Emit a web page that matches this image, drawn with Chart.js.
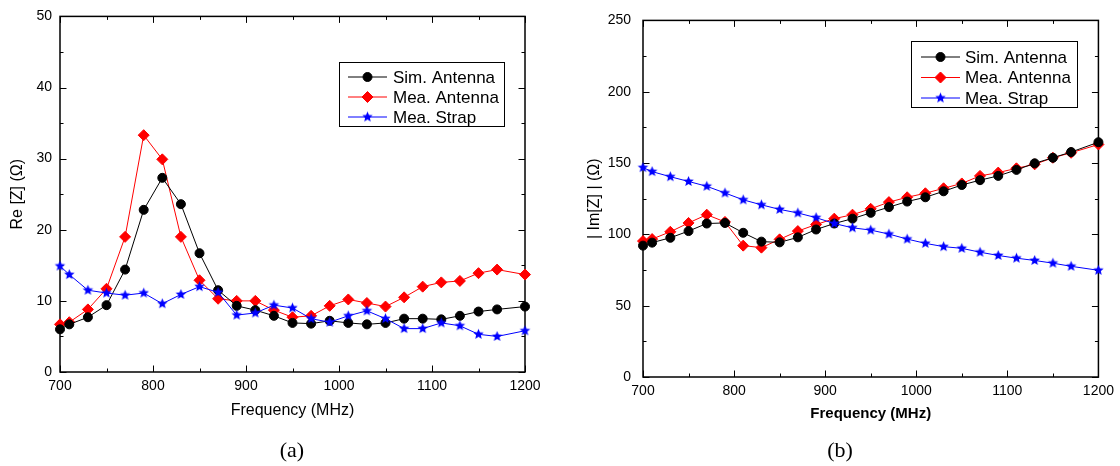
<!DOCTYPE html>
<html>
<head>
<meta charset="utf-8">
<script src="https://cdn.jsdelivr.net/npm/chart.js@4.4.1/dist/chart.umd.min.js"></script>
<style>
  html, body { margin: 0; padding: 0; background: #fff; }
  #wrap { position: relative; width: 1120px; height: 466px; overflow: hidden; }
  canvas { position: absolute; top: 0; }
  #cA { left: 0; }
  #cB { left: 560px; }
  .cap { position: absolute; top: 437px; width: 60px; margin-left: -30px; text-align: center;
         font: 22px 'Liberation Serif', 'Times New Roman', serif; color: #000; }
</style>
</head>
<body>
<div id="wrap">
  <canvas id="cA" width="560" height="466" style="width:560px;height:466px"></canvas>
  <canvas id="cB" width="560" height="466" style="width:560px;height:466px"></canvas>
  <div class="cap" style="left:292px">(a)</div>
  <div class="cap" style="left:840px">(b)</div>
</div>
<script>
// --- data ---
const freq = [700, 710, 730, 750, 770, 790, 810, 830, 850, 870, 890, 910, 930, 950,
              970, 990, 1010, 1030, 1050, 1070, 1090, 1110, 1130, 1150, 1170, 1200];

// (a) Re[Z]
const reSim   = [6.0, 6.7, 7.7, 9.4, 14.4, 22.8, 27.3, 23.6, 16.7, 11.5, 9.3, 8.7, 7.9, 6.9,
                 6.8, 7.2, 6.9, 6.7, 6.9, 7.5, 7.5, 7.4, 7.9, 8.5, 8.8, 9.2];
const reMea   = [6.7, 7.0, 8.8, 11.7, 19.0, 33.3, 29.9, 19.0, 12.9, 10.3, 10.0, 10.0, 8.7, 7.7,
                 7.9, 9.3, 10.2, 9.7, 9.2, 10.5, 12.0, 12.6, 12.8, 13.9, 14.4, 13.7];
const reStrap = [14.9, 13.7, 11.5, 11.1, 10.8, 11.1, 9.6, 10.9, 12.0, 11.2, 8.0, 8.3, 9.4, 9.0,
                 7.5, 7.0, 7.9, 8.6, 7.5, 6.1, 6.1, 6.9, 6.5, 5.3, 5.0, 5.8];

// (b) |Im[Z]|
const imSim   = [92.1, 94.2, 97.6, 102.3, 107.6, 108.0, 101.1, 94.9, 94.4, 97.9, 103.4, 107.6, 111.0, 115.1,
                 119.1, 123.0, 126.0, 130.2, 134.6, 138.0, 141.0, 145.2, 149.8, 153.7, 157.7, 164.6];
const imMea   = [95.3, 96.7, 101.8, 108.0, 113.8, 108.7, 92.1, 90.7, 96.5, 102.3, 106.9, 111.0, 113.8, 117.9,
                 122.6, 126.0, 128.8, 132.3, 135.7, 141.0, 143.3, 146.3, 149.1, 153.7, 157.2, 163.0];
const imStrap = [146.8, 144.0, 140.4, 137.1, 133.7, 129.0, 124.2, 120.7, 117.5, 115.0, 111.7, 107.6, 104.6, 103.0,
                 100.2, 96.7, 93.7, 91.4, 90.2, 87.5, 85.2, 83.3, 81.7, 79.8, 77.6, 74.8];

const seriesNames = ['Sim. Antenna', 'Mea. Antenna', 'Mea. Strap'];

Chart.defaults.font.family = "'Liberation Sans', Arial, sans-serif";
Chart.defaults.color = '#000';

// filled five-point star used as point style
function starImage(color, R) {
  const s = Math.ceil(R * 2 + 2) | 1;
  const c = document.createElement('canvas');
  c.width = c.height = s;
  const g = c.getContext('2d');
  g.fillStyle = color;
  g.beginPath();
  for (let i = 0; i < 10; i++) {
    const r = i % 2 ? R * 0.45 : R;
    const a = -Math.PI / 2 + i * Math.PI / 5;
    g.lineTo(s / 2 + r * Math.cos(a), s / 2 + r * Math.sin(a));
  }
  g.closePath();
  g.fill();
  return c;
}
const blueStar = starImage('#0000ff', 5.5);

function pts(vals) { return vals.map((v, i) => ({ x: freq[i], y: v })); }

function makeDatasets(sim, mea, strap) {
  const base = { borderWidth: 1, pointBorderWidth: 1, clip: false, showLine: true };
  return [
    Object.assign({}, base, { label: seriesNames[0], data: pts(sim), order: 1,
      borderColor: '#000', backgroundColor: '#000', pointStyle: 'circle', pointRadius: 4.5 }),
    Object.assign({}, base, { label: seriesNames[1], data: pts(mea), order: 2,
      borderColor: '#ff0000', backgroundColor: '#ff0000', pointStyle: 'rectRot', pointRadius: 5.5 }),
    Object.assign({}, base, { label: seriesNames[2], data: pts(strap), order: 0,
      borderColor: '#0000ff', backgroundColor: '#0000ff', pointStyle: blueStar, pointRadius: 5.5 })
  ];
}

// box with inward ticks on all four sides
const frame = {
  id: 'frame',
  beforeDatasetsDraw(chart, args, o) {
    const { ctx, chartArea: a, scales: { x, y } } = chart;
    ctx.save();
    ctx.strokeStyle = '#000';
    ctx.lineWidth = 1;
    ctx.beginPath();
    const mark = (scale, step, len) => {
      for (let v = scale.min; v <= scale.max + 1e-9; v += step) {
        const p = Math.round(scale.getPixelForValue(v)) + 0.5;
        if (scale.axis === 'x') {
          ctx.moveTo(p, a.bottom); ctx.lineTo(p, a.bottom - len);
          ctx.moveTo(p, a.top); ctx.lineTo(p, a.top + len);
        } else {
          ctx.moveTo(a.left, p); ctx.lineTo(a.left + len, p);
          ctx.moveTo(a.right, p); ctx.lineTo(a.right - len, p);
        }
      }
    };
    mark(x, o.xStep / 2, 3.5);
    mark(x, o.xStep, 6.5);
    mark(y, o.yStep / 2, 3.5);
    mark(y, o.yStep, 6.5);
    ctx.stroke();
    ctx.lineWidth = 1.5;
    ctx.strokeRect(a.left, a.top, a.right - a.left, a.bottom - a.top);
    ctx.restore();
  }
};

// legend drawn inside the plot, in a framed box
const boxLegend = {
  id: 'boxLegend',
  afterDraw(chart, args, o) {
    const { ctx } = chart;
    ctx.save();
    ctx.fillStyle = '#fff';
    ctx.fillRect(o.x, o.y, o.w, o.h);
    ctx.strokeStyle = '#000';
    ctx.lineWidth = 1;
    ctx.strokeRect(o.x + 0.5, o.y + 0.5, o.w, o.h);
    ctx.font = "17px 'Liberation Sans', Arial, sans-serif";
    ctx.textBaseline = 'middle';
    chart.data.datasets.forEach((ds, i) => {
      const cy = o.y + o.row0 + i * o.rowH;
      ctx.strokeStyle = ds.borderColor;
      ctx.fillStyle = ds.backgroundColor;
      ctx.lineWidth = 1;
      ctx.beginPath();
      ctx.moveTo(o.x + o.lx0, cy);
      ctx.lineTo(o.x + o.lx1, cy);
      ctx.stroke();
      Chart.helpers.drawPoint(ctx, { pointStyle: ds.pointStyle, radius: ds.pointRadius,
        rotation: 0, borderWidth: 1 }, o.x + (o.lx0 + o.lx1) / 2, cy);
      ctx.fillStyle = '#000';
      ctx.textAlign = 'left';
      ctx.fillText(ds.label, o.x + o.tx, cy + 1);
    });
    ctx.restore();
  }
};

function makeChart(id, cfg) {
  return new Chart(document.getElementById(id), {
    type: 'scatter',
    data: { datasets: cfg.datasets },
    options: {
      responsive: false,
      animation: false,
      devicePixelRatio: 1,
      layout: { padding: cfg.padding },
      plugins: {
        legend: { display: false },
        tooltip: { enabled: false },
        frame: { xStep: 100, yStep: cfg.yStep },
        boxLegend: cfg.legend
      },
      scales: {
        x: {
          type: 'linear', min: 700, max: 1200,
          grid: { display: false, drawTicks: false }, border: { display: false },
          ticks: { stepSize: 100, padding: 6, font: { size: 14 }, maxRotation: 0,
                   callback: v => String(v) },
          title: { display: true, text: 'Frequency (MHz)', font: cfg.xTitleFont,
                   padding: { top: 0, bottom: cfg.xTitlePad } },
          afterFit: s => { s.height = cfg.xHeight; }
        },
        y: {
          type: 'linear', min: 0, max: cfg.yMax,
          grid: { display: false, drawTicks: false }, border: { display: false },
          ticks: { stepSize: cfg.yStep, padding: cfg.yTickPad, font: { size: 14 },
                   callback: v => String(v) },
          title: { display: true, text: cfg.yTitle, font: { size: 16 },
                   padding: { top: cfg.yTitlePad, bottom: 0 } },
          afterFit: s => { s.width = cfg.yWidth; }
        }
      }
    },
    plugins: [frame, boxLegend]
  });
}

makeChart('cA', {
  datasets: makeDatasets(reSim, reMea, reStrap),
  padding: { left: 0, right: 35, top: 15, bottom: 0 },
  yMax: 50, yStep: 10, yTickPad: 8, yWidth: 60, yTitle: 'Re [Z] (\u03A9)', yTitlePad: 8.4,
  xHeight: 94, xTitlePad: 46, xTitleFont: { size: 16 },
  legend: { x: 339, y: 62, w: 165, h: 64, row0: 15, rowH: 20, lx0: 9, lx1: 48, tx: 54 }
});

makeChart('cB', {
  datasets: makeDatasets(imSim, imMea, imStrap),
  padding: { left: 0, right: 19, top: 16, bottom: 0 },
  yMax: 250, yStep: 50, yTickPad: 12, yWidth: 83, yTitle: '| Im[Z] | (\u03A9)', yTitlePad: 25.4,
  xHeight: 89, xTitlePad: 43, xTitleFont: { size: 15, weight: 'bold' },
  legend: { x: 351, y: 41, w: 166, h: 66, row0: 16, rowH: 20.5, lx0: 10, lx1: 49, tx: 54 }
});
</script>
</body>
</html>
